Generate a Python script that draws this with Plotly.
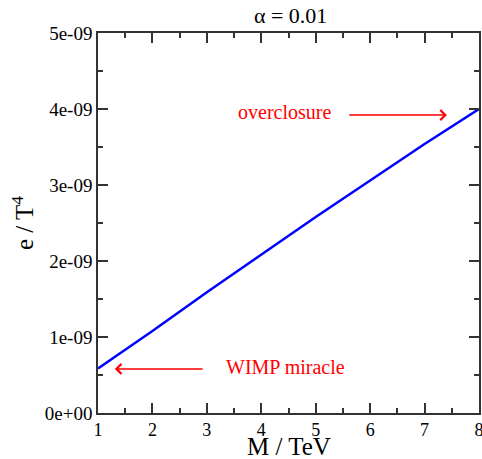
import plotly.graph_objects as go

# data
M_TeV = [1, 2, 3, 4, 5, 6, 7, 8]
e_over_T4 = [0.586e-9, 1.08e-9, 1.59e-9, 2.09e-9, 2.58e-9, 3.06e-9, 3.54e-9, 4.00e-9]

ytick_vals = [0, 1e-9, 2e-9, 3e-9, 4e-9, 5e-9]
ytick_text = ["0e+00", "1e-09", "2e-09", "3e-09", "4e-09", "5e-09"]
xtick_vals = [1, 2, 3, 4, 5, 6, 7, 8]

FONT = "Liberation Serif"
RED = "#ff0000"

fig = go.Figure()
fig.add_trace(go.Scatter(x=M_TeV, y=e_over_T4, mode="lines",
                         line=dict(color="#0000ff", width=2.5), showlegend=False))

axis_common = dict(showline=True, linecolor="#333333", linewidth=1.5, mirror="allticks",
                   ticks="inside", ticklen=10, tickwidth=1.5, tickcolor="#333333",
                   showgrid=False, zeroline=False, automargin=False,
                   ticklabeloverflow="allow")

fig.update_xaxes(range=[1, 8], tickvals=xtick_vals,
                 tickfont=dict(family=FONT, size=18, color="black"),
                 ticklabelstandoff=0,
                 minor=dict(ticks="inside", ticklen=5, dtick=0.5, tick0=1, tickwidth=1.5,
                            tickcolor="#333333", showgrid=False),
                 **axis_common)
fig.update_yaxes(range=[0, 5e-9], tickvals=ytick_vals, ticktext=ytick_text,
                 tickfont=dict(family=FONT, size=19, color="black"),
                 minor=dict(ticks="inside", ticklen=5, dtick=0.5e-9, tick0=0, tickwidth=1.5,
                            tickcolor="#333333", showgrid=False),
                 title=dict(text="e / T<sup>4</sup>", font=dict(family=FONT, size=25, color="black"),
                            standoff=4),
                 **axis_common)

# x-axis title as annotation (kept inside the tight bottom margin)
fig.add_annotation(x=0.5, y=-0.089, xref="paper", yref="paper", text="M / TeV",
                   showarrow=False, xanchor="center", yanchor="middle",
                   font=dict(family=FONT, size=25, color="black"))

# annotations
fig.add_annotation(x=7.41, y=3.92e-9, ax=5.59, ay=3.92e-9, axref="x", ayref="y",
                   xref="x", yref="y", text="", showarrow=True, arrowhead=4,
                   arrowsize=1.3, arrowwidth=1.5, arrowcolor=RED)
fig.add_annotation(x=4.42, y=3.96e-9, xref="x", yref="y", text="overclosure",
                   showarrow=False, font=dict(family=FONT, size=20, color=RED))
fig.add_annotation(x=1.31, y=0.58e-9, ax=2.95, ay=0.58e-9, axref="x", ayref="y",
                   xref="x", yref="y", text="", showarrow=True, arrowhead=4,
                   arrowsize=1.3, arrowwidth=1.5, arrowcolor=RED)
fig.add_annotation(x=4.45, y=0.605e-9, xref="x", yref="y", text="WIMP miracle",
                   showarrow=False, font=dict(family=FONT, size=20, color=RED))

fig.update_layout(
    width=482, height=459,
    margin=dict(l=98, r=3, t=33, b=46),
    paper_bgcolor="white", plot_bgcolor="white",
    title=dict(text="α = 0.01", x=0.603, xanchor="center", y=1 - 15 / 459, yanchor="middle",
               font=dict(family=FONT, size=22, color="black")),
)

fig.write_html("out.html")
